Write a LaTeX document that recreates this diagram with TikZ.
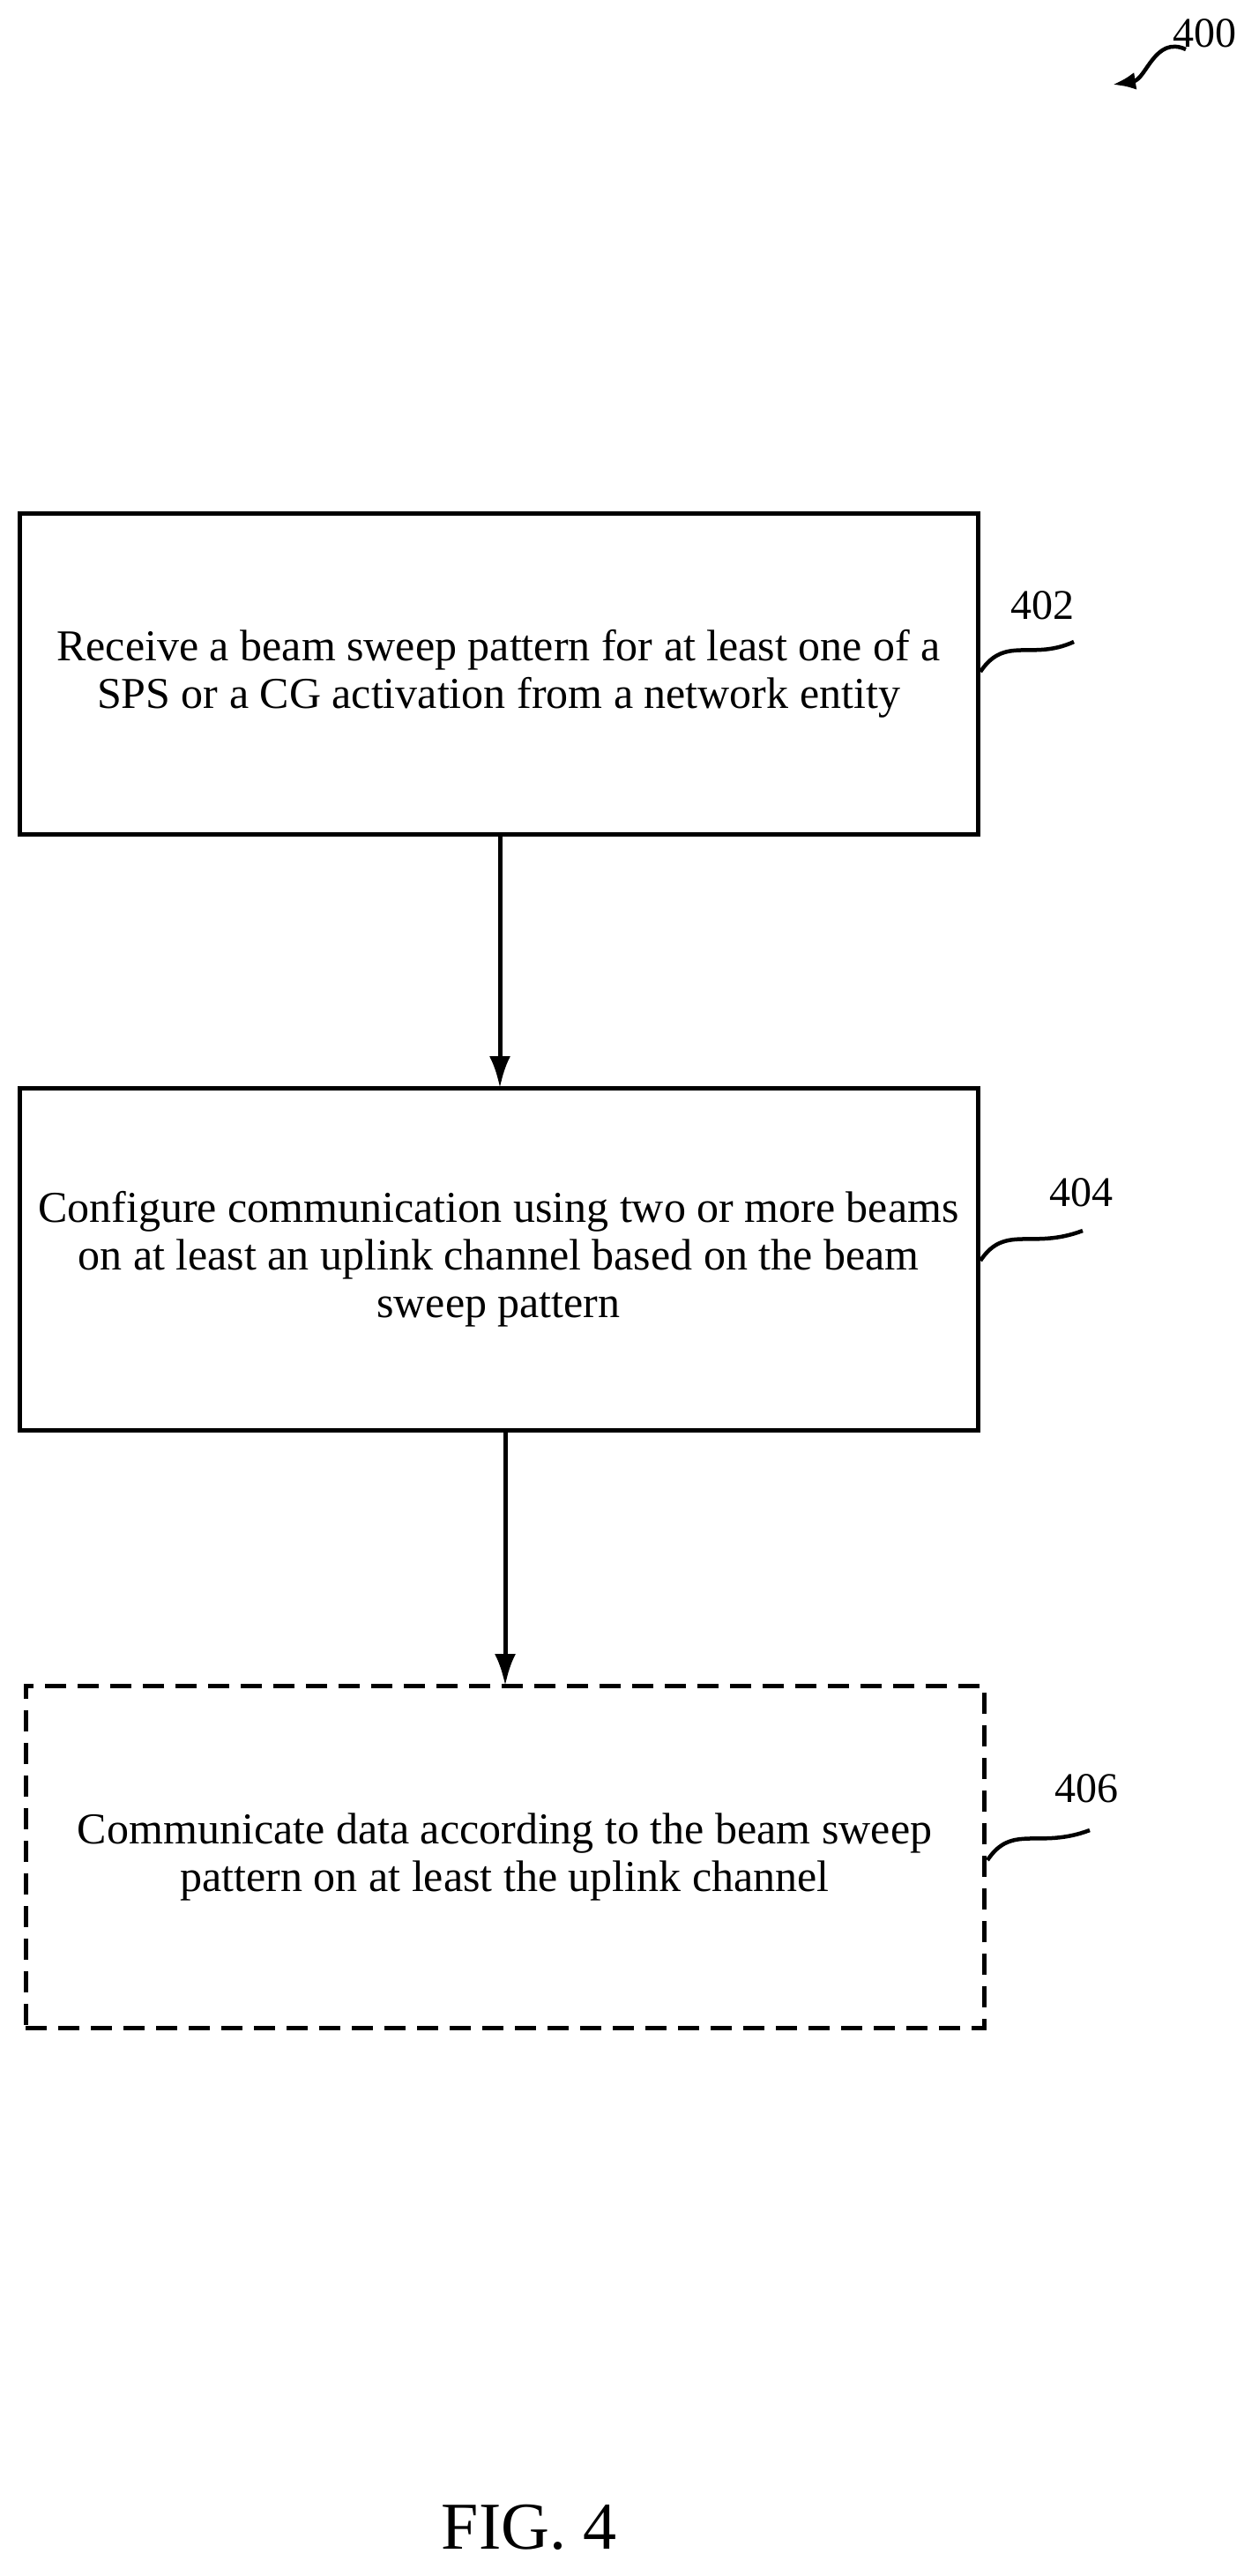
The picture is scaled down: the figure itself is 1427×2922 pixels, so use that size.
\documentclass[tikz,border=0pt]{standalone}
\usepackage{fontspec}
\setmainfont{Liberation Serif}
\usetikzlibrary{arrows.meta}
\begin{document}
\begin{tikzpicture}[x=1pt,y=-1pt,
  box/.style={draw,line width=5pt,minimum width=1087pt,minimum height=364pt,align=center,inner sep=0pt,font=\fontsize{50}{54}\selectfont},
  lbl/.style={font=\fontsize{48}{52}\selectfont},
  arr/.style={line width=5pt,-{Latex[length=36pt,width=24pt]}}]
\useasboundingbox (0,0) rectangle (1427,2922);
\node[box] (b1) at (565.5,764) {Receive a beam sweep pattern for at least one of a\\SPS or a CG activation from a network entity};
\node[box,minimum height=388pt] (b2) at (565.5,1428) {Configure communication using two or more beams\\on at least an uplink channel based on the beam\\sweep pattern};
\node[box,minimum height=388pt,dash pattern=on 24pt off 13pt] (b3) at (572.5,2106) {Communicate data according to the beam sweep\\pattern on at least the uplink channel};
\coordinate (a1s) at (567,946); \coordinate (a1e) at (567,1234);
\draw[arr] (a1s) -- (a1e);
\coordinate (a2s) at (573,1622); \coordinate (a2e) at (573,1912);
\draw[arr] (a2s) -- (a2e);
\node[lbl] (l402) at (1182,687) {402};
\node[lbl] (l404) at (1226,1353) {404};
\node[lbl] (l406) at (1232,2029) {406};
\node[lbl] (l400) at (1366,38) {400};
\draw[line width=4.5pt] (1112,762) .. controls (1140,720) and (1170,750) .. (1218,728);
\draw[line width=4.5pt] (1112,1430) .. controls (1140,1388) and (1170,1418) .. (1228,1396);
\draw[line width=4.5pt] (1120,2110) .. controls (1148,2068) and (1178,2098) .. (1236,2076);
\draw[line width=4.5pt,-{Latex[length=26pt,width=20pt]}] (1345,56) .. controls (1310,40) and (1300,90) .. (1262,96);
\node[font=\fontsize{76}{80}\selectfont] (fig) at (600,2867) {FIG. 4};
\end{tikzpicture}
\end{document}
